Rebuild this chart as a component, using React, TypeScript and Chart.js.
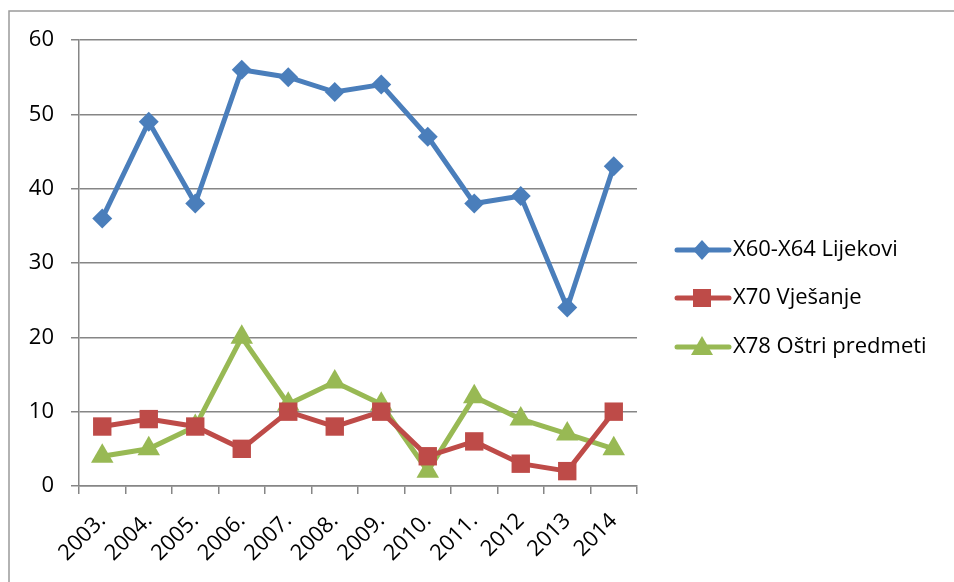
import React, { useEffect, useRef } from "react";
import { Chart, registerables } from "chart.js";

Chart.register(...registerables);

const categories = ["2003.", "2004.", "2005.", "2006.", "2007.", "2008.", "2009.", "2010.", "2011.", "2012", "2013", "2014"];
const lijekovi = [36, 49, 38, 56, 55, 53, 54, 47, 38, 39, 24, 43];
const vjesanje = [8, 9, 8, 5, 10, 8, 10, 4, 6, 3, 2, 10];
const ostri = [4, 5, 8, 20, 11, 14, 11, 2, 12, 9, 7, 5];
const seriesNames = ["X60-X64 Lijekovi", "X70 Vješanje", "X78 Oštri predmeti"];
const yTicks = [0, 10, 20, 30, 40, 50, 60];

const BLUE = "#4A7EBB";
const RED = "#BE4B48";
const GREEN = "#98B954";
const FONT = "'Open Sans', 'Liberation Sans', sans-serif";

const frameAndLegend = {
  id: "frameAndLegend",
  afterDraw(chart: any) {
    const ctx = chart.ctx;
    ctx.save();
    ctx.strokeStyle = "#9A9A9A";
    ctx.lineWidth = 1.5;
    ctx.strokeRect(9, 11, 1000, 700);
    const rowsY = [250, 298, 347];
    chart.data.datasets.forEach((ds: any, i: number) => {
      const y = rowsY[i];
      ctx.strokeStyle = ds.borderColor;
      ctx.lineWidth = 5;
      ctx.lineCap = "round";
      ctx.beginPath();
      ctx.moveTo(677, y);
      ctx.lineTo(729, y);
      ctx.stroke();
      ctx.fillStyle = ds.borderColor;
      const cx = 702;
      ctx.beginPath();
      if (ds.pointStyle === "rectRot") {
        ctx.moveTo(cx, y - 10);
        ctx.lineTo(cx + 9, y);
        ctx.lineTo(cx, y + 10);
        ctx.lineTo(cx - 9, y);
      } else if (ds.pointStyle === "rect") {
        ctx.rect(cx - 9, y - 9, 18, 18);
      } else {
        ctx.moveTo(cx, y - 11);
        ctx.lineTo(cx + 11, y + 8);
        ctx.lineTo(cx - 11, y + 8);
      }
      ctx.closePath();
      ctx.fill();
      ctx.fillStyle = "#000";
      ctx.font = `22px ${FONT}`;
      ctx.textBaseline = "middle";
      ctx.textAlign = "left";
      ctx.fillText(ds.label, 733, y);
    });
    ctx.restore();
  },
};

export default function App() {
  const ref = useRef<HTMLCanvasElement>(null);
  useEffect(() => {
    const chart = new Chart(ref.current!, {
      type: "line",
      data: {
        labels: categories,
        datasets: [
          { label: seriesNames[0], data: lijekovi, borderColor: BLUE, backgroundColor: BLUE, borderWidth: 5, pointStyle: "rectRot", pointRadius: 10, pointBorderWidth: 0, tension: 0 },
          { label: seriesNames[1], data: vjesanje, borderColor: RED, backgroundColor: RED, borderWidth: 5, pointStyle: "rect", pointRadius: 13, pointBorderWidth: 0, tension: 0 },
          { label: seriesNames[2], data: ostri, borderColor: GREEN, backgroundColor: GREEN, borderWidth: 5, pointStyle: "triangle", pointRadius: 13, pointBorderWidth: 0, tension: 0 },
        ],
      },
      options: {
        animation: false,
        responsive: false,
        layout: { padding: { left: 0, top: 40, right: 317, bottom: 0 } },
        plugins: { legend: { display: false }, tooltip: { enabled: false } },
        scales: {
          x: {
            offset: true,
            grid: { display: true, drawOnChartArea: false, offset: true, color: "#868686", lineWidth: 1.5, tickLength: 8 },
            border: { color: "#868686", width: 1.5 },
            ticks: { color: "#000", font: { family: FONT, size: 22 }, minRotation: 45, maxRotation: 45, padding: 14, autoSkip: false },
            afterFit(scale: any) { scale.height = 582 - 486; },
          },
          y: {
            min: 0,
            max: 60,
            afterBuildTicks(scale: any) { scale.ticks = yTicks.map((v) => ({ value: v })); },
            grid: { color: "#868686", lineWidth: 1.5, tickLength: 8 },
            border: { color: "#868686", width: 1.5 },
            ticks: { color: "#000", font: { family: FONT, size: 22 }, padding: 17 },
            afterFit(scale: any) { scale.width = 79; },
          },
        },
      },
      plugins: [frameAndLegend],
    });
    return () => chart.destroy();
  }, []);
  return (
    <div style={{ position: "fixed", left: 0, top: 0, width: 954, height: 582, background: "#fff" }}>
      <canvas ref={ref} width={954} height={582} style={{ width: 954, height: 582 }} />
    </div>
  );
}
